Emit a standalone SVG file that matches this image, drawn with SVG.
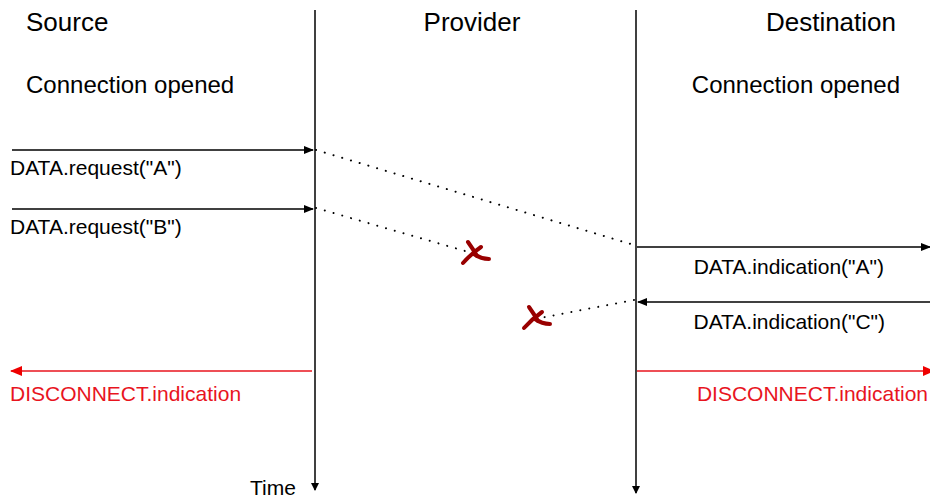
<svg xmlns="http://www.w3.org/2000/svg" width="930" height="498" viewBox="0 0 930 498">
<defs>
<marker id="ah" markerWidth="10" markerHeight="8" refX="9" refY="4" orient="auto" markerUnits="userSpaceOnUse"><path d="M0,0 L10,4 L0,8 z" fill="#000"/></marker>
<marker id="ahs" markerWidth="8" markerHeight="8" refX="7" refY="4" orient="auto" markerUnits="userSpaceOnUse"><path d="M0,0 L8,4 L0,8 z" fill="#000"/></marker>
<marker id="ahr" markerWidth="12" markerHeight="10" refX="11" refY="5" orient="auto" markerUnits="userSpaceOnUse"><path d="M0,0 L12,5 L0,10 z" fill="#e00"/></marker>
</defs>
<style>
text{font-family:"Liberation Sans",Arial,sans-serif;fill:#000}
.h{font-size:26px}
.c{font-size:24px}
.m{font-size:21px}
.r{fill:#e8141e}
.ln{stroke:#000;stroke-width:1.5;fill:none}
.dot{stroke:#000;stroke-width:2;stroke-dasharray:0.1 9;stroke-linecap:round;fill:none}
.red{stroke:#e8141e;stroke-width:1.6;fill:none}
.x{stroke:#990000;stroke-width:4;stroke-linecap:round;fill:none}
</style>
<g id="source"><text class="h" x="26" y="31">Source</text><text class="c" x="26" y="93">Connection opened</text></g>
<g id="provider"><text class="h" x="472" y="31" text-anchor="middle">Provider</text></g>
<g id="destination"><text class="h" x="896" y="31" text-anchor="end">Destination</text><text class="c" x="900" y="93" text-anchor="end">Connection opened</text></g>
<g id="lifelines">
<line class="ln" x1="315" y1="10" x2="315" y2="490" marker-end="url(#ahs)"/>
<line class="ln" x1="636" y1="10" x2="636" y2="493" marker-end="url(#ahs)"/>
<text class="m" x="250" y="495">Time</text>
</g>
<g id="connectors">
<line class="ln" x1="12" y1="150" x2="313" y2="150" marker-end="url(#ah)"/>
<line class="ln" x1="12" y1="209" x2="313" y2="209" marker-end="url(#ah)"/>
<line class="dot" x1="316" y1="150" x2="634" y2="245"/>
<line class="dot" x1="316" y1="208" x2="465" y2="251"/>
<line class="ln" x1="637" y1="247" x2="930" y2="247" marker-end="url(#ah)"/>
<line class="ln" x1="930" y1="302" x2="638" y2="302" marker-end="url(#ah)"/>
<line class="dot" x1="634" y1="300" x2="540" y2="318"/>
<line class="red" x1="312" y1="371" x2="11" y2="371" marker-end="url(#ahr)"/>
<line class="red" x1="637" y1="371" x2="934" y2="371" marker-end="url(#ahr)"/>
</g>
<g id="labels">
<text class="m" x="10" y="175">DATA.request("A")</text>
<text class="m" x="10" y="234">DATA.request("B")</text>
<text class="m" x="884" y="274" text-anchor="end">DATA.indication("A")</text>
<text class="m" x="885" y="329" text-anchor="end">DATA.indication("C")</text>
<text class="m r" x="10" y="401">DISCONNECT.indication</text>
<text class="m r" x="928" y="401" text-anchor="end">DISCONNECT.indication</text>
</g>
<g id="loss1">
<path class="x" d="M468,242 Q473,249 477,256"/>
<path class="x" d="M481,247 Q471,254 463,263"/>
<path class="x" d="M474,254 Q481,259 489,259"/>
</g>
<g id="loss2">
<path class="x" d="M529,307 Q534,314 538,321"/>
<path class="x" d="M542,312 Q532,319 524,328"/>
<path class="x" d="M535,319 Q542,324 550,324"/>
</g>
</svg>
